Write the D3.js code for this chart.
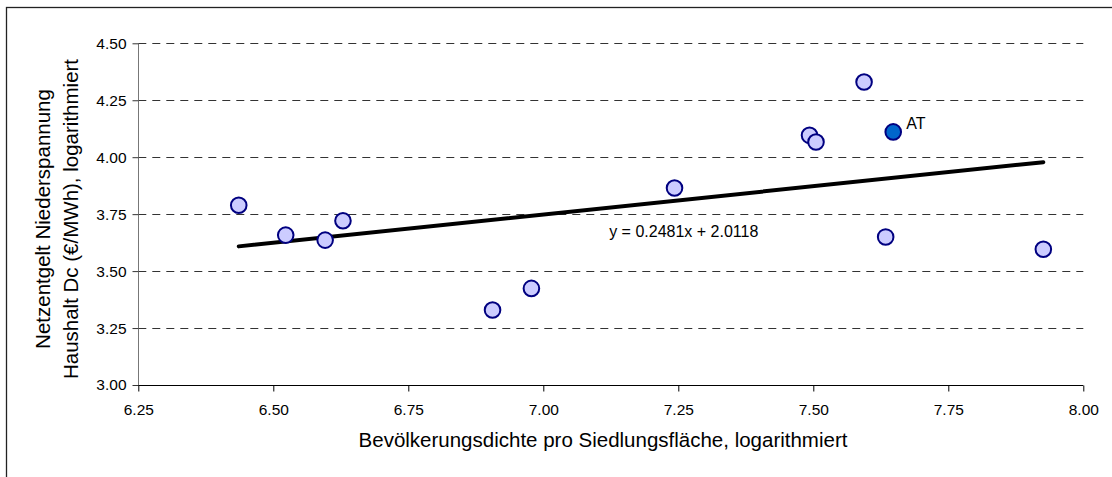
<!DOCTYPE html>
<html>
<head>
<meta charset="utf-8">
<script src="https://cdn.jsdelivr.net/npm/d3@7"></script>
<style>
html, body { margin: 0; padding: 0; background: #fff; }
svg { display: block; font-family: "Liberation Sans", Arial, sans-serif; }
</style>
</head>
<body>
<svg id="chart" width="1112" height="477"></svg>
<script>
// Data
const xValues = [6.436, 6.523, 6.596, 6.629, 6.906, 6.978, 7.243, 7.493, 7.505, 7.594, 7.634, 7.926, 7.648];
const yValues = [3.789, 3.658, 3.636, 3.721, 3.329, 3.424, 3.865, 4.096, 4.067, 4.330, 3.650, 3.596, 4.111];
const pointLabels = ["", "", "", "", "", "", "", "", "", "", "", "", "AT"];
const xTicks = [6.25, 6.50, 6.75, 7.00, 7.25, 7.50, 7.75, 8.00];
const yTicks = [3.00, 3.25, 3.50, 3.75, 4.00, 4.25, 4.50];
const slope = 0.2481, intercept = 2.0118;
const equationText = "y = 0.2481x + 2.0118";
const xTitle = "Bevölkerungsdichte pro Siedlungsfläche, logarithmiert";
const yTitle = ["Netzentgelt Niederspannung", "Haushalt Dc (€/MWh), logarithmiert"];

const svg = d3.select("#chart");
const pLeft = 138.3, pRight = 1083.3, pTop = 43.3, pBottom = 385;

const x = d3.scaleLinear().domain([6.25, 8.00]).range([pLeft, pRight]);
const y = d3.scaleLinear().domain([3.00, 4.50]).range([pBottom, pTop]);

// outer frame
svg.append("rect").attr("x", 6.5).attr("y", 7.5).attr("width", 1120).attr("height", 480)
  .attr("fill", "none").attr("stroke", "#222").attr("stroke-width", 1.3);

// gridlines
svg.append("g").selectAll("line").data(yTicks.filter(d => d > 3.0)).join("line")
  .attr("x1", pLeft).attr("x2", pRight)
  .attr("y1", d => Math.round(y(d)) + 0.5).attr("y2", d => Math.round(y(d)) + 0.5)
  .attr("stroke", "#333").attr("stroke-width", 1).attr("stroke-dasharray", "8,6");

// y axis
const yAxis = d3.axisLeft(y).tickValues(yTicks).tickFormat(d3.format(".2f")).tickSize(6).tickPadding(6);
const gy = svg.append("g").attr("transform", `translate(${Math.round(pLeft) + 0.5},0)`).call(yAxis);
gy.select(".domain").attr("stroke", "#777").attr("d", `M0,${pTop}V${pBottom}`);
gy.selectAll(".tick line").attr("stroke", "#333");
gy.selectAll(".tick text").attr("font-size", 15.5).attr("fill", "#000").attr("font-family", "Liberation Sans, Arial, sans-serif");

// x axis
const xAxis = d3.axisBottom(x).tickValues(xTicks).tickFormat(d3.format(".2f")).tickSize(6).tickPadding(12);
const gx = svg.append("g").attr("transform", `translate(0,${Math.round(pBottom) + 0.5})`).call(xAxis);
gx.select(".domain").attr("stroke", "#000").attr("d", `M${pLeft},0H${pRight}`);
gx.selectAll(".tick line").attr("stroke", "#000");
gx.selectAll(".tick text").attr("font-size", 15.5).attr("fill", "#000").attr("font-family", "Liberation Sans, Arial, sans-serif");

// trendline
const xmin = d3.min(xValues), xmax = d3.max(xValues);
svg.append("line")
  .attr("x1", x(xmin)).attr("y1", y(slope * xmin + intercept))
  .attr("x2", x(xmax)).attr("y2", y(slope * xmax + intercept))
  .attr("stroke", "#000").attr("stroke-width", 4).attr("stroke-linecap", "round");

// equation
svg.append("text").attr("x", x(7.122)).attr("y", y(3.667)).attr("font-size", 16)
  .attr("dominant-baseline", "middle").text(equationText);

// points
const pts = xValues.map((v, i) => ({ x: v, y: yValues[i], label: pointLabels[i] }));
svg.append("g").selectAll("circle").data(pts).join("circle")
  .attr("cx", d => x(d.x)).attr("cy", d => y(d.y)).attr("r", 7.8)
  .attr("fill", d => d.label === "AT" ? "#0066cc" : "#ccccff")
  .attr("stroke", "#000080").attr("stroke-width", 2);

svg.append("g").selectAll("text").data(pts.filter(d => d.label)).join("text")
  .attr("x", d => x(d.x) + 13).attr("y", d => y(d.y) - 7)
  .attr("font-size", 16).attr("dominant-baseline", "middle").text(d => d.label);

// axis titles
svg.append("text").attr("x", 603).attr("y", 442).attr("text-anchor", "middle")
  .attr("dominant-baseline", "middle").attr("font-size", 20.5).text(xTitle);

const yt = svg.append("text").attr("transform", `translate(59,219) rotate(-90)`)
  .attr("text-anchor", "middle").attr("font-size", 20.5);
yt.append("tspan").attr("x", 0).attr("y", -14).attr("dominant-baseline", "middle").text(yTitle[0]);
yt.append("tspan").attr("x", 0).attr("y", 14).attr("dominant-baseline", "middle").text(yTitle[1]);
</script>
</body>
</html>
